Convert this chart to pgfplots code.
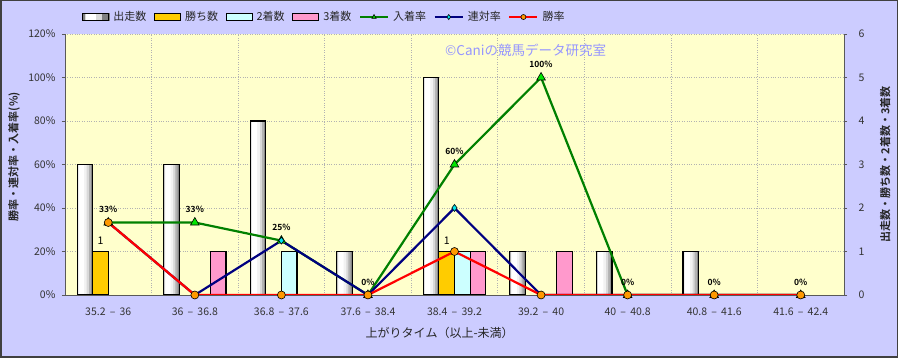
\documentclass[border=0pt]{standalone}
\usepackage{pgfplots}
\usepackage{pgfplotstable}
\pgfplotsset{compat=1.18}
\usepackage{fontspec}
\setmainfont{Noto Sans CJK JP}[BoldFont={Noto Sans CJK JP Bold}]
\definecolor{bgout}{RGB}{204,204,255}
\definecolor{bgplot}{RGB}{255,255,204}
\definecolor{cgold}{RGB}{255,204,0}
\definecolor{ccyan}{RGB}{204,255,255}
\definecolor{cpink}{RGB}{255,153,204}
\definecolor{cgreen}{RGB}{0,128,0}
\definecolor{cgreenm}{RGB}{0,230,0}
\definecolor{cnavy}{RGB}{0,0,128}
\definecolor{cdiam}{RGB}{0,230,240}
\definecolor{cmark}{RGB}{255,153,0}
\definecolor{wm}{RGB}{150,150,255}
\newcommand{\rng}[2]{#1\hspace{0.4em}–\hspace{0.4em}#2}
\pgfplotstableread{
x y
0 3
1 3
2 4
3 1
4 5
5 1
6 1
7 1
}\runs
\begin{document}
\begin{tikzpicture}
\path[use as bounding box] (0,0) rectangle (898pt,358pt);
\draw[fill=bgout, draw=black!75, line width=1.5pt] (0.75pt,0.75pt) rectangle (897.25pt,357.25pt);
\pgfplotsset{
  every axis/.append style={
    scale only axis, width=779pt, height=261pt,
    at={(65pt,63pt)}, anchor=south west,
    xmin=-0.5, xmax=8.5,
    /pgf/number format/assume math mode=true,
    tick label style={font=\fontsize{10.5}{12}\selectfont, text=black!80},
    tick align=outside, major tick length=3pt,
    axis line style={draw=black!65, line width=0.8pt},
  },
}
% ---------------- bar axis (right y axis) ----------------
\begin{axis}[
  axis y line*=right, axis x line*=bottom,
  axis background/.style={fill=bgplot},
  ymin=0, ymax=6, ytick={0,1,...,6},
  xtick={0,1,...,8},
  xticklabels={\rng{35.2}{36}, \rng{36}{36.8}, \rng{36.8}{37.6}, \rng{37.6}{38.4}, \rng{38.4}{39.2}, \rng{39.2}{40}, \rng{40}{40.8}, \rng{40.8}{41.6}, \rng{41.6}{42.4}},
  xticklabel style={yshift=-6pt},
  yticklabel style={xshift=8pt},
  minor xtick={0.5,1.5,...,7.5},
  xminorgrids, ymajorgrids,
  grid style={black!30, dotted, line width=0.6pt},
  x tick style={draw=none},
  y tick style={draw=black!65, line width=0.8pt},
  xlabel={上がりタイム（以上-未満）},
  every axis x label/.style={at={(axis description cs:0.481,-0.146)}, anchor=center, font=\fontsize{12}{14}\selectfont\mdseries, text=black!85},
  ylabel={出走数・勝ち数・2着数・3着数},
  every axis y label/.style={at={(axis description cs:1.053,0.5)}, rotate=90, anchor=center, font=\fontsize{11}{13}\selectfont\bfseries, text=black!85},
  ybar, bar width=0.18,
]
% 出走数 (layered to imitate the cylinder shading)
\addplot[ybar, bar shift=-0.27, bar width=0.18, draw=none, fill=black!48] table {\runs};
\addplot[ybar, bar shift=-0.2775, bar width=0.155, draw=none, fill=black!30] table {\runs};
\addplot[ybar, bar shift=-0.2875, bar width=0.125, draw=none, fill=black!15] table {\runs};
\addplot[ybar, bar shift=-0.2975, bar width=0.095, draw=none, fill=black!5] table {\runs};
\addplot[ybar, bar shift=-0.31, bar width=0.06, draw=none, fill=white] table {\runs};
\addplot[ybar, bar shift=-0.27, bar width=0.18, draw=black, line width=1.1pt, fill=none] table {\runs};
% 勝ち数
\addplot[ybar, bar shift=-0.09, draw=black, line width=1.1pt, fill=cgold,
  nodes near coords, nodes near coords style={font=\fontsize{10.5}{12}\selectfont, text=black, anchor=south, yshift=3pt}]
  coordinates {(0,1) (4,1)};
% 2着数
\addplot[ybar, bar shift=0.09, draw=black, line width=1.1pt, fill=ccyan]
  coordinates {(2,1) (4,1)};
% 3着数
\addplot[ybar, bar shift=0.27, draw=black, line width=1.1pt, fill=cpink]
  coordinates {(1,1) (4,1) (5,1)};
\end{axis}
% ---------------- line axis (left y axis) ----------------
\begin{axis}[
  axis y line*=left, axis x line=none,
  ymin=0, ymax=120, ytick={0,20,...,120},
  yticklabel={\pgfmathprintnumber[fixed]{\tick}\%},
  yticklabel style={xshift=-3pt},
  y tick style={draw=black!65, line width=0.8pt},
  ylabel={勝率・連対率・入着率(\%)},
  every axis y label/.style={at={(axis description cs:-0.0655,0.53)}, rotate=90, anchor=center, font=\fontsize{11}{13}\selectfont\bfseries, text=black!85},
  legend columns=-1,
  legend style={draw=none, fill=none, at={(axis description cs:0.022,1.065)}, anchor=west,
    inner xsep=0pt, inner ysep=0pt, font=\fontsize{11}{14}\selectfont, text=black!85,
    /tikz/every odd column/.append style={column sep=2pt},
    /tikz/every even column/.append style={column sep=5.5pt}},
  legend cell align=left,
]
\addlegendimage{legend image code/.code={
  \fill[black!50] (0pt,-3.5pt) rectangle (26pt,3.5pt);
  \fill[black!15] (2pt,-3.5pt) rectangle (18pt,3.5pt);
  \fill[white] (3pt,-3.5pt) rectangle (12pt,3.5pt);
  \draw[black, line width=1.1pt] (0pt,-3.5pt) rectangle (26pt,3.5pt);}}
\addlegendentry{出走数}
\addlegendimage{legend image code/.code={\draw[draw=black, line width=1.1pt, fill=cgold] (0pt,-3.5pt) rectangle (26pt,3.5pt);}}
\addlegendentry{勝ち数}
\addlegendimage{legend image code/.code={\draw[draw=black, line width=1.1pt, fill=ccyan] (0pt,-3.5pt) rectangle (26pt,3.5pt);}}
\addlegendentry{2着数}
\addlegendimage{legend image code/.code={\draw[draw=black, line width=1.1pt, fill=cpink] (0pt,-3.5pt) rectangle (26pt,3.5pt);}}
\addlegendentry{3着数}
\pgfplotsset{every axis plot/.append style={legend image code/.code={\draw[#1, mark repeat=2, mark phase=2, mark size=2.5pt] plot coordinates {(0pt,0pt) (14pt,0pt) (28pt,0pt)};}}}
\addplot[cgreen, line width=2.2pt, mark=triangle*, mark size=5pt,
  mark options={fill=cgreenm, draw=black, line width=0.6pt},
  point meta=y,
  nodes near coords={\pgfmathprintnumber[fixed,precision=0]{\pgfplotspointmeta}\%},
  nodes near coords style={font=\fontsize{8.5}{10}\selectfont\bfseries, text=black, anchor=south, yshift=6pt}]
  coordinates {(0,33.33) (1,33.33) (2,25) (3,0) (4,60) (5,100) (6,0) (7,0) (8,0)};
\addlegendentry{入着率}
\addplot[cnavy, line width=2.2pt, mark=diamond*, mark size=3.5pt,
  mark options={fill=cdiam, draw=black, line width=0.6pt}]
  coordinates {(0,33.33) (1,0) (2,25) (3,0) (4,40) (5,0) (6,0) (7,0) (8,0)};
\addlegendentry{連対率}
\addplot[red, line width=2.2pt, mark=*, mark size=4pt,
  mark options={fill=cmark, draw=black, line width=0.6pt}]
  coordinates {(0,33.33) (1,0) (2,0) (3,0) (4,20) (5,0) (6,0) (7,0) (8,0)};
\addlegendentry{勝率}
\end{axis}
\node[text=wm, anchor=west, font=\fontsize{13.5}{15}\selectfont, inner sep=0pt] at (445pt,308pt) {©Caniの競馬データ研究室};
\end{tikzpicture}
\end{document}
